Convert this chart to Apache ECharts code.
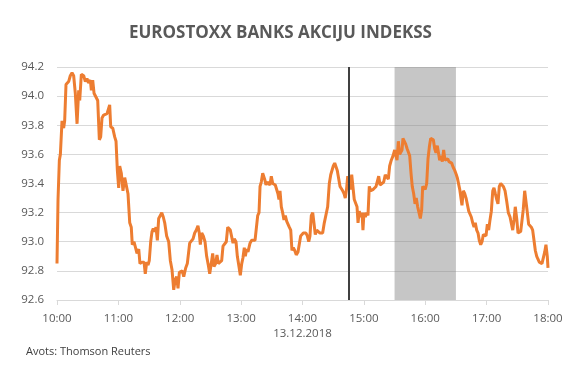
<!DOCTYPE html>
<html>
<head>
<meta charset="utf-8">
<script src="https://cdn.jsdelivr.net/npm/echarts@6/dist/echarts.min.js"></script>
<style>html,body{margin:0;padding:0;background:#fff}#c{width:585px;height:366px}</style>
</head>
<body>
<div id="c"></div>
<script>
// minutes after 10:00 on 13.12.2018
const minutes = [0,1,2.3,3.3,4.9,6.5,7.5,8.8,9.8,11.4,13,14.7,16.3,17.9,19.6,21.2,22.2,23.8,26.1,27.7,29.3,30.9,32.6,33.6,34.9,36.2,38.1,39.8,41.4,42.7,44,45.6,47.3,48.9,50.5,51.5,52.5,54.5,56.4,57.7,59,60.3,
61.3,62.9,64.5,66.2,67.7,69.4,71.1,72.6,73.6,75.3,76.9,78.2,79.9,81.1,83.1,85.1,86.3,87.7,89,90.2,91.6,92.9,94.1,95.5,96.8,98.1,99.4,101,102.4,103.9,105.3,107.2,109.2,110.8,112.4,114.1,115.6,117,118.3,119.6,120.9,122.5,123.9,
125.8,127.4,128.7,129.7,131.3,133,134.6,136.2,137.8,139.1,140.1,141.5,143,144.7,146.3,147.9,149.3,150.8,152.2,153.5,155.1,156.4,157.7,159.3,161,162.3,163.9,165.5,166.9,168.1,169.4,170.8,172.1,173.3,175,176.3,177.9,179.2,180.6,181.8,183.1,184.1,185.4,186.7,
188.7,190.3,191.9,193.6,195.2,196.2,197.5,198.5,199.7,201.1,202.1,203,204.3,205.6,207,208.2,209.5,210.9,212.1,213.4,214.8,216,217,218,219.3,220.6,221.9,223.2,224.6,225.8,227.1,228.5,229.7,231,232.4,233.9,235.6,236.9,238.2,239.5,240.8,242.2,243.4,244.7,246.1,247.3,248.6,250,251.2,
252.5,253.9,255.4,257.1,258.8,259.7,261.3,263,264.6,266.2,267.6,268.8,270.1,271.5,272.8,274,275.4,276.7,277.9,279.3,280.6,281.8,283.2,284.2,285.5,286.7,288.1,289.4,290.6,292,293.3,294.3,295.5,296.9,298.2,299.1,300.1,301.4,302.8,304,305.3,306.7,307.9,309.2,310.6,311.9,313.1,314.5,315.8,317,
319.4,320.9,322.6,323.9,325.2,326.8,328.5,330.1,331.4,332.4,333.7,335,336,337.3,338.2,339.5,340.9,342.2,343.4,344.8,346.1,347.3,348.7,350,351.2,352.6,353.9,355.2,356.5,357.5,358.8,360,361.4,362.7,364,365.3,366.6,367.9,369.2,370.5,371.8,373.2,374.1,375.4,376.7,378,379.3,380.6,382,
383.2,384.5,385.8,387.4,388.8,390.4,391.3,392.7,393.7,394.7,395.9,397.2,398.6,399.9,401.1,402.5,403.7,405,406.4,407.7,408.9,410.3,411.6,412.8,414.2,415.5,416.8,418.1,419.4,420.7,422,423.3,424.6,426,427.2,428.5,429.9,431.1,432.4,
433.8,435,436.3,438,439.6,441.2,442.9,444.5,445.5,446.8,448,449.4,450.7,451.9,453.3,454.6,455.8,457.2,458.5,459.8,461.1,462.4,463.7,465,466.3,467.6,469,470.2,471.5,472.9,474.1,475.4,476.8,478,479.3,480];
const indexValues = [92.85,93.29,93.56,93.60,93.83,93.78,93.83,94.08,94.09,94.10,94.14,94.16,94.14,94.02,93.81,94.04,93.97,94.15,94.14,94.10,94.12,94.09,94.11,94.04,94.11,94.02,94.01,93.97,93.70,93.72,93.85,93.87,93.86,93.88,93.89,93.94,93.79,93.78,93.72,93.69,93.49,93.37,
93.52,93.47,93.35,93.44,93.45,93.33,93.13,93.10,92.98,93.00,92.99,92.92,92.95,92.85,92.86,92.86,92.78,92.86,92.84,92.87,93.00,93.07,93.09,93.07,93.10,93.01,93.16,93.18,93.20,93.17,93.13,93.04,93.00,92.87,92.81,92.67,92.74,92.76,92.68,92.79,92.78,92.80,92.76,
92.82,92.85,92.86,92.99,93.00,93.02,93.06,93.08,93.11,93.06,92.98,93.06,93.04,93.00,92.90,92.84,92.78,92.85,92.92,92.83,92.85,92.91,92.85,92.86,92.87,92.97,92.98,93.00,93.10,93.11,93.08,93.09,92.99,93.02,93.00,92.90,92.83,92.77,92.85,92.89,92.96,92.90,92.95,92.93,
92.99,93.01,93.00,93.01,93.01,93.18,93.20,93.38,93.41,93.47,93.48,93.43,93.39,93.41,93.40,93.39,93.45,93.40,93.40,93.39,93.38,93.33,93.29,93.35,93.24,93.20,93.15,93.18,93.14,93.15,93.10,93.08,92.94,92.96,92.94,92.91,92.93,92.94,93.04,93.05,93.06,93.05,93.06,93.04,93.00,93.04,93.18,93.20,93.13,
93.05,93.08,93.07,93.06,93.07,93.06,93.13,93.14,93.24,93.40,93.46,93.45,93.52,93.54,93.54,93.49,93.49,93.38,93.38,93.35,93.33,93.30,93.37,93.45,93.38,93.36,93.46,93.46,93.29,93.29,93.24,93.13,93.21,93.17,93.20,93.08,93.20,93.17,93.20,93.18,93.38,93.35,93.35,93.36,93.35,93.38,93.37,93.45,93.39,93.40,
93.41,93.46,93.47,93.43,93.52,93.56,93.59,93.63,93.64,93.56,93.69,93.60,93.59,93.63,93.71,93.70,93.67,93.64,93.64,93.59,93.47,93.38,93.33,93.26,93.30,93.24,93.24,93.16,93.22,93.38,93.38,93.36,93.40,93.57,93.65,93.71,93.72,93.70,93.64,93.61,93.66,93.65,93.56,93.59,93.55,93.63,93.56,93.57,93.57,
93.55,93.56,93.54,93.51,93.49,93.46,93.44,93.43,93.36,93.37,93.25,93.35,93.33,93.30,93.30,93.21,93.20,93.17,93.13,93.10,93.13,93.08,93.06,93.01,92.98,93.00,93.05,93.06,93.04,93.12,93.08,93.15,93.21,93.35,93.37,93.33,93.29,93.26,93.38,
93.40,93.39,93.38,93.35,93.28,93.20,93.17,93.16,93.08,93.15,93.24,93.16,93.06,93.07,93.07,93.08,93.22,93.35,93.35,93.20,93.12,93.13,93.10,93.08,93.01,92.94,92.90,92.88,92.86,92.85,92.85,92.84,92.93,92.98,92.90,92.82];

const xTickMinutes = [0, 60, 120, 180, 240, 300, 360, 420, 480];
const xTickLabels = ['10:00','11:00','12:00','13:00','14:00\n13.12.2018','15:00','16:00','17:00','18:00'];
const yTickLabels = ['92.6','92.8','93.0','93.2','93.4','93.6','93.8','94.0','94.2'];
const markerLineMinute = 285;          // 14:45
const shadedRange = [330, 390];        // 15:30 - 16:30

const titleText = 'EUROSTOXX BANKS AKCIJU INDEKSS';
const sourceText = 'Avots: Thomson Reuters';

const seriesData = minutes.map((m, i) => [m, indexValues[i]]);

const chart = echarts.init(document.getElementById('c'), null, {renderer: 'canvas'});
const font = '"Open Sans", "DejaVu Sans", sans-serif';
chart.setOption({
  animation: false,
  backgroundColor: '#ffffff',
  title: {
    text: titleText,
    left: 124,
    top: 20,
    textStyle: {fontFamily: font, fontSize: 17, fontWeight: 'bold', color: '#595959'}
  },
  graphic: [{
    type: 'text', left: 26, top: 346,
    style: {text: sourceText, fontFamily: font, fontSize: 11, fill: '#404040'}
  }],
  grid: {left: 57, right: 37, top: 67, bottom: 66, containLabel: false},
  xAxis: {
    type: 'value', min: 0, max: 480, interval: 60,
    axisLine: {show: true, lineStyle: {color: '#d9d9d9', width: 1}},
    axisTick: {show: true, length: 5, lineStyle: {color: '#d9d9d9'}},
    splitLine: {show: false},
    axisLabel: {
      margin: 11, color: '#595959', fontFamily: font, fontSize: 11.5, lineHeight: 15,
      formatter: v => { const i = xTickMinutes.indexOf(v); return i >= 0 ? xTickLabels[i] : ''; }
    }
  },
  yAxis: {
    type: 'value', min: 92.6, max: 94.2, interval: 0.2,
    axisLine: {show: false}, axisTick: {show: false},
    splitLine: {show: true, lineStyle: {color: '#d9d9d9', width: 1}},
    axisLabel: {
      margin: 13, color: '#595959', fontFamily: font, fontSize: 11.5,
      formatter: v => { const i = Math.round((v - 92.6) / 0.2); return yTickLabels[i] || ''; }
    }
  },
  series: [{
    type: 'line', data: seriesData, showSymbol: false, z: 2,
    lineStyle: {color: '#ED7D31', width: 3},
    itemStyle: {color: '#ED7D31'}
  }, {
    type: 'line', data: [], z: 5,
    markArea: {
      silent: true,
      itemStyle: {color: 'rgba(128,128,128,0.45)'},
      data: [[{xAxis: shadedRange[0]}, {xAxis: shadedRange[1]}]]
    },
    markLine: {
      silent: true, symbol: ['none','none'], label: {show: false},
      lineStyle: {color: '#404040', width: 2, type: 'solid'},
      data: [{xAxis: markerLineMinute}]
    }
  }]
});
</script>
</body>
</html>
